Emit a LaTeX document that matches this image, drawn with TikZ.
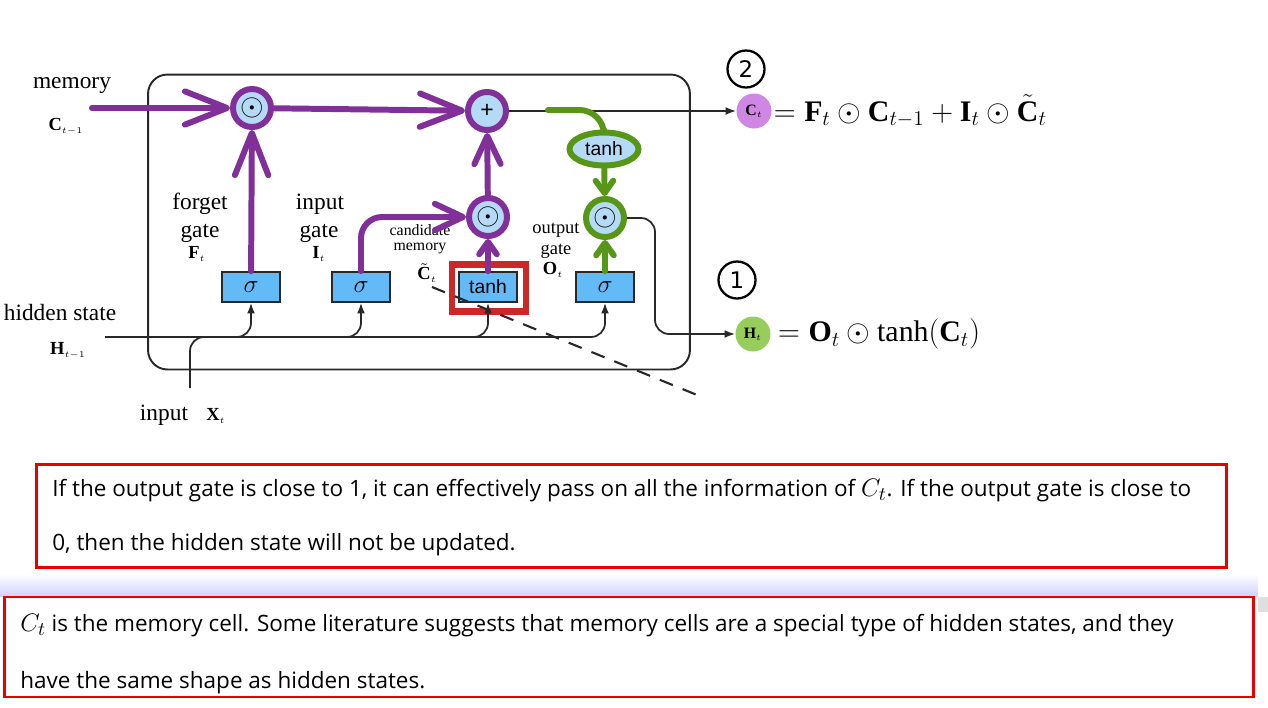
\documentclass[tikz,border=0pt]{standalone}
\usepackage{fontspec}
\setmainfont{Liberation Serif}
\newfontfamily\notefont{Open Sans}
\newfontfamily\boxfont{Liberation Sans}
\newfontfamily\numfont{DejaVu Sans}
\usetikzlibrary{arrows.meta,shapes.geometric,positioning}
\definecolor{penPurple}{RGB}{128,48,152}
\definecolor{penGreen}{RGB}{88,150,24}
\definecolor{cellBlue}{RGB}{180,218,246}
\definecolor{gateBlue}{RGB}{98,186,246}
\definecolor{penRed}{RGB}{205,40,40}
\definecolor{boxRed}{RGB}{235,0,0}
\definecolor{cellPurple}{RGB}{208,135,228}
\definecolor{cellGreen}{RGB}{150,205,92}
\definecolor{wireGray}{RGB}{40,40,40}
\begin{document}
\begin{tikzpicture}[x=0.02cm, y=-0.02cm,
  gatebox/.style={rectangle, draw=wireGray, line width=1pt, fill=gateBlue, minimum width=1.16cm, minimum height=0.6cm, inner sep=0pt, font=\boxfont\fontsize{11}{12}\selectfont},
  pcell/.style={circle, draw=penPurple, line width=3.4pt, fill=cellBlue, minimum size=0.76cm, inner sep=0pt, font=\fontsize{18}{18}\selectfont},
  gcell/.style={circle, draw=penGreen, line width=3.4pt, fill=cellBlue, minimum size=0.76cm, inner sep=0pt, font=\fontsize{18}{18}\selectfont},
  pline/.style={draw=penPurple, line width=3.4pt, line cap=round},
  gline/.style={draw=penGreen, line width=3.4pt, line cap=round},
  bigbarb/.style={-{Straight Barb[length=24pt,width=19pt,round]}},
  midbarb/.style={-{Straight Barb[length=16pt,width=15pt,round]}},
  smallbarb/.style={-{Straight Barb[length=7pt,width=10pt,round]}},
  wire/.style={draw=wireGray, line width=1pt},
  tip/.style={-{Latex[length=6pt,width=4.5pt]}},
  lbl/.style={font=\fontsize{13.3}{14}\selectfont, inner sep=0pt},
  sublbl/.style={font=\fontsize{10.5}{12}\selectfont, inner sep=0pt},
  tinylbl/.style={font=\fontsize{9}{10}\selectfont, inner sep=0pt},
  numring/.style={circle, draw=black, line width=1.3pt, minimum size=0.74cm, inner sep=0pt, font=\numfont\fontsize{13}{14}\selectfont},
  note/.style={anchor=west, inner sep=0pt, font=\notefont\fontsize{12.8}{14}\selectfont},
  notebox/.style={draw=boxRed, line width=1.6pt}
]
\useasboundingbox (0,0) rectangle (1268,707);

% cell frame
\node[rectangle, draw=wireGray, line width=1.1pt, rounded corners=11pt, minimum width=10.84cm, minimum height=5.9cm](cell) at (419,222){};

% gates
\node[gatebox](fgate) at (251,287){\fontsize{14}{14}\selectfont$\sigma$};
\node[gatebox](igate) at (361,287){\fontsize{14}{14}\selectfont$\sigma$};
\node[gatebox](cgate) at (488,287){tanh};
\node[gatebox](ogate) at (605,287){\fontsize{14}{14}\selectfont$\sigma$};
\node[rectangle, draw=penRed, line width=3.6pt, minimum width=1.48cm, minimum height=0.94cm](cgateMark) at (489,288){};

% products and sum
\node[pcell](memF) at (252,108){$\odot$};
\node[pcell](plus) at (487,111){\boxfont\fontsize{13}{13}\selectfont +};
\node[pcell](candM) at (488,217){$\odot$};
\node[gcell](outM) at (605,218){$\odot$};
\node[ellipse, draw=penGreen, line width=3.4pt, fill=cellBlue, minimum width=1.38cm, minimum height=0.66cm, inner sep=0pt, font=\boxfont\fontsize{11}{12}\selectfont](tanhC) at (604,149){tanh};

% outputs
\node[circle, fill=cellPurple, minimum size=0.7cm, inner sep=0pt](ctOut) at (754,111){\small$\mathbf{C}_{\scriptscriptstyle t}$};
\node[right=1pt of ctOut, inner sep=0pt, font=\fontsize{17}{20}\selectfont](ctEq){$=\mathbf{F}_t\odot\mathbf{C}_{t-1}+\mathbf{I}_t\odot\tilde{\mathbf{C}}_t$};
\node[circle, fill=cellGreen, minimum size=0.7cm, inner sep=0pt](htOut) at (753,334){\small$\mathbf{H}_{\scriptscriptstyle t}$};
\node[right=4pt of htOut, inner sep=0pt, font=\fontsize{17}{20}\selectfont](htEq){$=\mathbf{O}_t\odot\tanh(\mathbf{C}_t)$};
\node[numring](num2) at (746,69){2};
\node[numring](num1) at (737,280){1};

% labels
\node[lbl](memLbl) at (72,86){memory};
\node[sublbl](cPrev) at (66,127){$\mathbf{C}_{\scriptscriptstyle t-1}$};
\node[lbl](hidLbl) at (60,312){hidden state};
\node[sublbl](hPrev) at (68,351){$\mathbf{H}_{\scriptscriptstyle t-1}$};
\node[lbl](inLbl) at (164,415){input};
\node[sublbl](xCur) at (216,416){$\mathbf{X}_{\scriptscriptstyle t}$};
\node[lbl](fLbl1) at (200,204){forget};
\node[lbl](fLbl2) at (200,233){gate};
\node[sublbl](fSym) at (197,254){$\mathbf{F}_{\scriptscriptstyle t}$};
\node[lbl](iLbl1) at (320,204){input};
\node[lbl](iLbl2) at (319,233){gate};
\node[sublbl](iSym) at (319,254){$\mathbf{I}_{\scriptscriptstyle t}$};
\node[tinylbl](cLbl1) at (420,230){candidate};
\node[tinylbl](cLbl2) at (420,248){memory};
\node[sublbl](cSym) at (427,273){$\tilde{\mathbf{C}}_{\scriptscriptstyle t}$};
\node[sublbl](oLbl1) at (556,230){output};
\node[sublbl](oLbl2) at (556,251){gate};
\node[sublbl](oSym) at (553,270){$\mathbf{O}_{\scriptscriptstyle t}$};

% black wiring
\coordinate (hIn) at (105,337);
\coordinate (xIn) at (190,388);
\coordinate (gStart) at (548,110);
\draw[wire, tip, rounded corners=8pt] (hIn) -| (ogate.south);
\foreach \g in {fgate,igate,cgate}
  \draw[wire, tip, rounded corners=8pt] (hIn -| \g.south) ++(-25,0) -| (\g.south);
\draw[wire, rounded corners=8pt] (xIn) |- (hIn -| fgate.south);
\draw[wire, tip] (plus) -- (ctOut);
\draw[wire, tip, rounded corners=8pt] (outM) -- (655,218) -- (655,334) -- (htOut);

% purple path
\coordinate (memIn) at (92,108);
\draw[pline, bigbarb] (memIn) -- (memF);
\draw[pline, bigbarb] (memF) -- (plus);
\draw[pline, bigbarb] (fgate) -- (memF);
\draw[pline, midbarb, rounded corners=12pt] (igate.north) |- (candM);
\draw[pline, smallbarb] (cgate) -- (candM);
\draw[pline, midbarb] (candM) -- (plus);

% green path
\draw[gline, rounded corners=14pt] (gStart) -- (604,110) -- (tanhC.north);
\draw[gline, smallbarb] (tanhC) -- (outM);
\draw[gline, smallbarb] (ogate) -- (outM);

% dashed cut
\coordinate (dashA) at (432,287);
\coordinate (dashB) at (702,397);
\draw[wireGray, line width=1.2pt, dash pattern=on 8pt off 6pt] (dashA) -- (dashB);

% notes
\node[notebox, minimum width=23.8cm, minimum height=2.06cm](note1) at (631.5,516){};
\node[note](note1a) at (52,491){If the output gate is close to 1, it can effectively pass on all the information of {\fontsize{15}{15}\selectfont$C_t$}. If the output gate is close to};
\node[note](note1b) at (52,545){0, then the hidden state will not be updated.};
\shade[top color=white, bottom color=blue!18] (0,574) rectangle (1258,596);
\fill[gray!25] (1258,597) rectangle (1268,612);
\node[notebox, minimum width=25cm, minimum height=2cm](note2) at (629,647){};
\node[note](note2a) at (20,626){{\fontsize{15}{15}\selectfont$C_t$} is the memory cell. Some literature suggests that memory cells are a special type of hidden states, and they};
\node[note](note2b) at (20,683){have the same shape as hidden states.};
\end{tikzpicture}
\end{document}
